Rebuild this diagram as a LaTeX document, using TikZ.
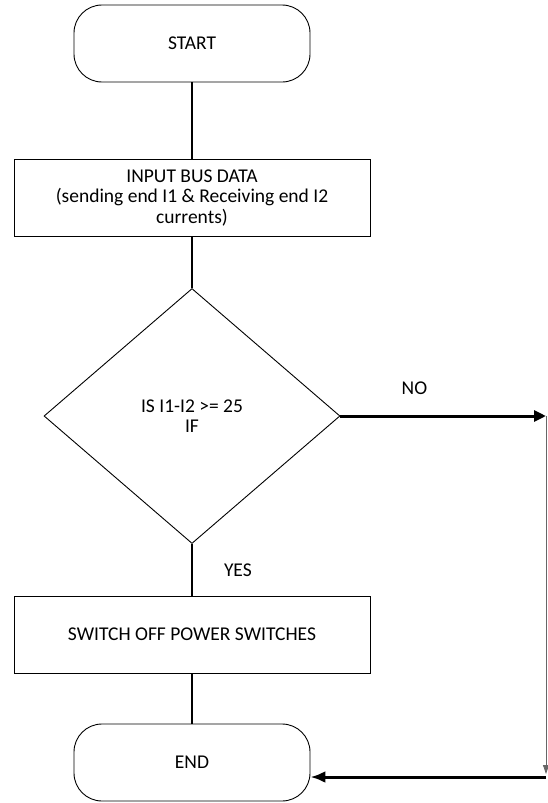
\documentclass[tikz,border=0pt]{standalone}
\usepackage{fontspec}
\setmainfont{Carlito}
\usetikzlibrary{shapes.geometric,arrows.meta}

\begin{document}
\begin{tikzpicture}[x=1pt,y=-1pt,font=\fontsize{19.5}{20.5}\selectfont,
  term/.style={draw,line width=.9pt,rounded corners=28pt,minimum width=236pt,minimum height=77pt},
  proc/.style={draw,line width=.9pt,minimum width=356pt,minimum height=77pt,align=center},
  decide/.style={draw,line width=.9pt,diamond,minimum width=296pt,minimum height=255pt,inner sep=0pt,align=center},
  conn/.style={line width=2pt},
  flow/.style={line width=3pt}]
\useasboundingbox (0,0) rectangle (547,803);
\node[term] (start) at (192,43.5) {START};
\node[proc] (input) at (192,198) {INPUT BUS DATA\\(sending end I1 \& Receiving end I2\\currents)};
\node[decide] (test) at (192,416) {IS I1-I2 >= 25\\IF};
\node[proc] (switch) at (192,634.5) {SWITCH OFF POWER SWITCHES};
\node[term] (end) at (192,762.5) {END};
\coordinate (noend) at (546,416);
\coordinate (back) at (546,777);
\foreach \a/\b in {start/input,input/test,switch/end}{
  \draw[conn] (\a) -- (\b);
}
\draw[conn] (test) -- node[pos=.5,right=31pt,inner sep=0pt] {YES} (switch);
\draw[flow,-{Triangle[length=12pt,width=11pt]}] (test.east) -- node[pos=.36,above=20pt,inner sep=0pt] {NO} (noend);
\draw[line width=.8pt,black!60,-{Triangle[length=9pt,width=6pt]},shorten >=3pt] (noend) -- (back);
\draw[flow,-{Latex[length=15pt,width=12pt]}] (back) -- (back -| end.east);
\end{tikzpicture}
\end{document}
